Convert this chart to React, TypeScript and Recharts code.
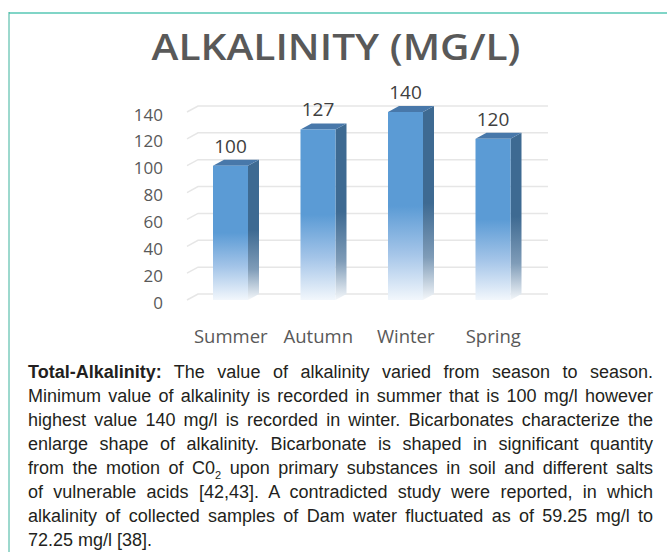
import React from "react";
import { BarChart, Bar, XAxis, YAxis, CartesianGrid, LabelList } from "recharts";

const seasons = ["Summer", "Autumn", "Winter", "Spring"];
const alkalinity = [100, 127, 140, 120];
const yTicks = [0, 20, 40, 60, 80, 100, 120, 140];
const chartTitle = "ALKALINITY (MG/L)";

const data = seasons.map((s, i) => ({ season: s, value: alkalinity[i] }));

const DX = 11;
const DY = 6;

const Bar3D = (props: any) => {
  const { x, y, width, height } = props;
  if (height <= 0) return null;
  return (
    <g>
      <path
        d={`M${x + width},${y} L${x + width + DX},${y - DY} L${x + width + DX},${y + height - DY} L${x + width},${y + height} Z`}
        fill="url(#sideGrad)"
      />
      <path
        d={`M${x},${y} L${x + DX},${y - DY} L${x + width + DX},${y - DY} L${x + width},${y} Z`}
        fill="#4878aa"
      />
      <rect x={x} y={y} width={width} height={height} fill="url(#frontGrad)" />
    </g>
  );
};

const GridLine = (p: any) => {
  const { x1, x2, y1 } = p;
  return (
    <path
      key={`g-${p.index}-${y1}`}
      d={`M${x1},${y1} L${x1 + DX},${y1 - DY} L${x2 + DX},${y1 - DY}`}
      fill="none"
      stroke="#e6e6e6"
      strokeWidth={1.5}
    />
  );
};

const YTick = (p: any) => (
  <text
    x={p.x}
    y={p.y + 2}
    textAnchor="end"
    dominantBaseline="central"
    fontFamily="'Open Sans', sans-serif"
    fontSize={17}
    fill="#595959"
  >
    {p.payload.value}
  </text>
);

const XTick = (p: any) => (
  <text
    x={p.x}
    y={p.y}
    textAnchor="middle"
    dominantBaseline="central"
    fontFamily="'Open Sans', sans-serif"
    fontSize={18.5}
    fill="#595959"
  >
    {p.payload.value}
  </text>
);

const ValueLabel = (p: any) => {
  const { x, y, width, value } = p;
  return (
    <text
      x={x + width / 2}
      y={y - 20}
      textAnchor="middle"
      dominantBaseline="central"
      fontFamily="'Open Sans', sans-serif"
      fontSize={19}
      fill="#404040"
    >
      {value}
    </text>
  );
};

const lineStyle: React.CSSProperties = {
  textAlign: "justify",
  textAlignLast: "justify",
  whiteSpace: "nowrap",
  height: 24,
};

export default function App() {
  return (
    <div
      style={{
        position: "absolute",
        left: 0,
        top: 0,
        width: 667,
        height: 552,
        background: "#ffffff",
        overflow: "hidden",
      }}
    >
      <svg
        width={667}
        height={552}
        style={{ position: "absolute", left: 0, top: 0 }}
      >
        <line x1={9} y1={13} x2={667} y2={13} stroke="#80d5c7" strokeWidth={2} />
        <line x1={9} y1={12} x2={9} y2={552} stroke="#3ab29c" strokeWidth={1} />
        <text
          transform="translate(336,60) scale(1.13,1)"
          x={0}
          y={0}
          textAnchor="middle"
          fontFamily="'Open Sans', sans-serif"
          fontWeight={600}
          fontSize={36}
          fill="#595959"
        >
          {chartTitle}
        </text>
      </svg>
      <div style={{ position: "absolute", left: 0, top: 0 }}>
        <BarChart
          width={667}
          height={360}
          data={data}
          margin={{ top: 112, right: 130, left: 0, bottom: 0 }}
          barSize={35}
        >
          <defs>
            <linearGradient id="frontGrad" x1="0" y1="0" x2="0" y2="1">
              <stop offset="0" stopColor="#5b9bd5" />
              <stop offset="0.5" stopColor="#5b9bd5" />
              <stop offset="0.75" stopColor="#a3c4e8" />
              <stop offset="1" stopColor="#f2f7fc" />
            </linearGradient>
            <linearGradient id="sideGrad" x1="0" y1="0" x2="0" y2="1">
              <stop offset="0" stopColor="#3e6a92" />
              <stop offset="0.5" stopColor="#3e6a92" />
              <stop offset="0.78" stopColor="#7f9cb8" />
              <stop offset="1" stopColor="#f4f7fa" />
            </linearGradient>
          </defs>
          <CartesianGrid vertical={false} horizontal={GridLine} />
          <XAxis
            dataKey="season"
            axisLine={false}
            tickLine={false}
            tickSize={0}
            tickMargin={35}
            height={60}
            tick={XTick}
          />
          <YAxis
            domain={[0, 140]}
            ticks={yTicks}
            axisLine={false}
            tickLine={false}
            tickSize={0}
            tickMargin={24}
            width={187}
            tick={YTick}
          />
          <Bar dataKey="value" shape={Bar3D} isAnimationActive={false}>
            <LabelList dataKey="value" content={ValueLabel} />
          </Bar>
        </BarChart>
      </div>
      <div
        style={{
          position: "absolute",
          left: 28,
          top: 360,
          width: 625,
          fontFamily: "'Liberation Sans', Arial, sans-serif",
          fontSize: 18,
          lineHeight: "24px",
          color: "#231f20",
        }}
      >
        <div style={lineStyle}>
          <b>Total-Alkalinity:</b> The value of alkalinity varied from season to season.
        </div>
        <div style={lineStyle}>
          Minimum value of alkalinity is recorded in summer that is 100 mg/l however
        </div>
        <div style={lineStyle}>
          highest value 140 mg/l is recorded in winter. Bicarbonates characterize the
        </div>
        <div style={lineStyle}>
          enlarge shape of alkalinity. Bicarbonate is shaped in significant quantity
        </div>
        <div style={lineStyle}>
          from the motion of C0
          <sub style={{ fontSize: 11, lineHeight: 0 }}>2</sub> upon primary substances in soil and different salts
        </div>
        <div style={lineStyle}>
          of vulnerable acids [42,43]. A contradicted study were reported, in which
        </div>
        <div style={lineStyle}>
          alkalinity of collected samples of Dam water fluctuated as of 59.25 mg/l to
        </div>
        <div style={{ ...lineStyle, textAlignLast: "left" }}>72.25 mg/l [38].</div>
      </div>
    </div>
  );
}
